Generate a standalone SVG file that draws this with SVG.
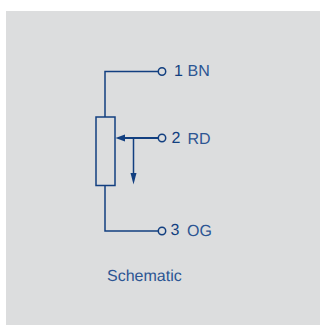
<svg xmlns="http://www.w3.org/2000/svg" width="320" height="325" viewBox="0 0 320 325">
<style>
.w{fill:none;stroke:#123f80;stroke-width:1.500}
.t{fill:#2c5593;font-family:"Liberation Sans",Arial,sans-serif;font-size:16px;text-rendering:geometricPrecision}
.n{fill:#123f80;font-family:"Liberation Sans",Arial,sans-serif;font-size:16px;text-rendering:geometricPrecision}
.h{fill:#123f80}
</style>
<rect width="320" height="325" fill="#ffffff"/>
<rect x="6" y="11" width="314" height="314" fill="#dcddde"/>
<g id="connectors">
<path class="w" d="M105 117V71.500H158"/>
<path class="w" d="M105 185.500V231H158"/>
<path class="w" d="M122 138H158" style="stroke-width:1.800"/>
<path class="w" d="M133.500 138V174"/>
<path class="h" d="M115.500 138L125 134.500V141.500Z"/>
<path class="h" d="M133.500 184.500L130.500 173H136.500Z"/>
</g>
<g id="resistor"><rect class="w" x="96" y="117" width="19" height="68.500"/></g>
<g id="terminal-1"><circle class="w" cx="162" cy="71.500" r="3.700"/><text class="n" x="174" y="75.500">1</text><text class="t" x="187.500" y="75.500">BN</text></g>
<g id="terminal-2"><circle class="w" cx="162" cy="138" r="3.700"/><text class="n" x="171.500" y="142.700">2</text><text class="t" x="187.500" y="143.700">RD</text></g>
<g id="terminal-3"><circle class="w" cx="162" cy="231" r="3.700"/><text class="n" x="170.500" y="234.500">3</text><text class="t" x="187" y="235.500">OG</text></g>
<g id="caption"><text class="t" x="107" y="281">Schematic</text></g>
</svg>
